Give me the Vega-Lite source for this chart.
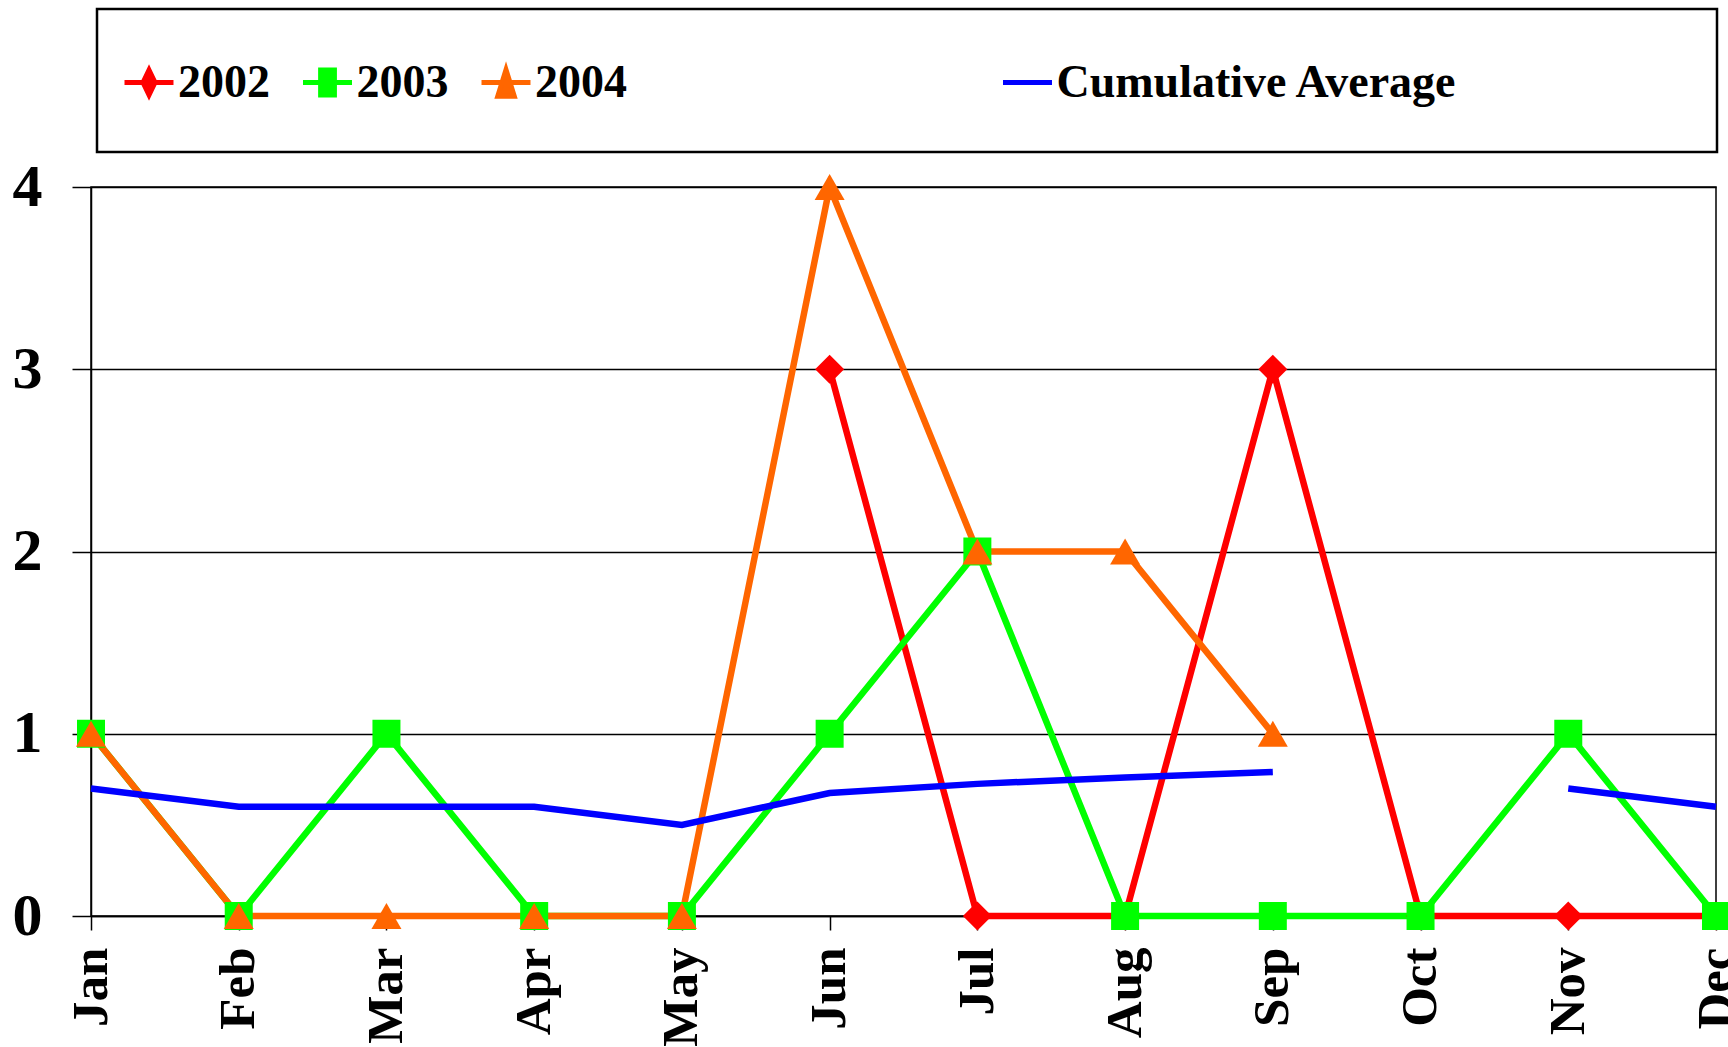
{
  "$schema": "https://vega.github.io/schema/vega-lite/v6.json",
  "width": 1625,
  "height": 729,
  "autosize": "none",
  "padding": {"left": 91, "top": 187, "right": 12, "bottom": 131},
  "background": "white",
  "config": {
    "view": {"stroke": "black", "strokeWidth": 1.5},
    "font": "Liberation Serif"
  },
  "datasets": {
    "main": [
      {"month": "Jun", "series": "2002", "value": 3},
      {"month": "Jul", "series": "2002", "value": 0},
      {"month": "Aug", "series": "2002", "value": 0},
      {"month": "Sep", "series": "2002", "value": 3},
      {"month": "Oct", "series": "2002", "value": 0},
      {"month": "Nov", "series": "2002", "value": 0},
      {"month": "Dec", "series": "2002", "value": 0},
      {"month": "Jan", "series": "2003", "value": 1},
      {"month": "Feb", "series": "2003", "value": 0},
      {"month": "Mar", "series": "2003", "value": 1},
      {"month": "Apr", "series": "2003", "value": 0},
      {"month": "May", "series": "2003", "value": 0},
      {"month": "Jun", "series": "2003", "value": 1},
      {"month": "Jul", "series": "2003", "value": 2},
      {"month": "Aug", "series": "2003", "value": 0},
      {"month": "Sep", "series": "2003", "value": 0},
      {"month": "Oct", "series": "2003", "value": 0},
      {"month": "Nov", "series": "2003", "value": 1},
      {"month": "Dec", "series": "2003", "value": 0},
      {"month": "Jan", "series": "2004", "value": 1},
      {"month": "Feb", "series": "2004", "value": 0},
      {"month": "Mar", "series": "2004", "value": 0},
      {"month": "Apr", "series": "2004", "value": 0},
      {"month": "May", "series": "2004", "value": 0},
      {"month": "Jun", "series": "2004", "value": 4},
      {"month": "Jul", "series": "2004", "value": 2},
      {"month": "Aug", "series": "2004", "value": 2},
      {"month": "Sep", "series": "2004", "value": 1},
      {"month": "Jan", "series": "Cumulative Average", "value": 0.70},
      {"month": "Feb", "series": "Cumulative Average", "value": 0.60},
      {"month": "Mar", "series": "Cumulative Average", "value": 0.60},
      {"month": "Apr", "series": "Cumulative Average", "value": 0.60},
      {"month": "May", "series": "Cumulative Average", "value": 0.50},
      {"month": "Jun", "series": "Cumulative Average", "value": 0.675},
      {"month": "Jul", "series": "Cumulative Average", "value": 0.725},
      {"month": "Aug", "series": "Cumulative Average", "value": 0.76},
      {"month": "Sep", "series": "Cumulative Average", "value": 0.79},
      {"month": "Oct", "series": "Cumulative Average", "value": null},
      {"month": "Nov", "series": "Cumulative Average", "value": 0.70},
      {"month": "Dec", "series": "Cumulative Average", "value": 0.60}
    ]
  },
  "data": {"name": "main"},
  "encoding": {
    "x": {
      "field": "month",
      "type": "ordinal",
      "sort": ["Jan", "Feb", "Mar", "Apr", "May", "Jun", "Jul", "Aug", "Sep", "Oct", "Nov", "Dec"],
      "scale": {"type": "point", "padding": 0},
      "axis": {
        "title": null,
        "labelAngle": -90,
        "labelFont": "Liberation Serif",
        "labelFontWeight": "bold",
        "labelFontSize": 51,
        "labelColor": "black",
        "labelPadding": 17,
        "tickSize": 14,
        "tickColor": "black",
        "tickWidth": 1.5,
        "domainColor": "black",
        "domainWidth": 1.5,
        "grid": false
      }
    },
    "y": {
      "field": "value",
      "type": "quantitative",
      "scale": {"domain": [0, 4], "nice": false, "zero": true},
      "axis": {
        "title": null,
        "values": [0, 1, 2, 3, 4],
        "labelFont": "Liberation Serif",
        "labelFontWeight": "bold",
        "labelFontSize": 60,
        "labelColor": "black",
        "labelPadding": 30,
        "tickSize": 19,
        "tickColor": "black",
        "tickWidth": 1.5,
        "domainColor": "black",
        "domainWidth": 1.5,
        "grid": true,
        "gridColor": "black",
        "gridWidth": 1.5
      }
    }
  },
  "layer": [
    {
      "transform": [{"filter": "datum.series != 'Cumulative Average'"}],
      "mark": {"type": "line", "strokeWidth": 6.5},
      "encoding": {
        "color": {
          "field": "series",
          "type": "nominal",
          "scale": {"domain": ["2002", "2003", "2004"], "range": ["#FF0000", "#00FF00", "#FF6600"]},
          "legend": null
        }
      }
    },
    {
      "transform": [{"filter": "datum.series == '2002'"}],
      "mark": {"type": "point", "shape": "diamond", "filled": true, "opacity": 1, "size": 841, "color": "#FF0000"}
    },
    {
      "transform": [{"filter": "datum.series == '2003'"}],
      "mark": {"type": "point", "shape": "square", "filled": true, "opacity": 1, "size": 784, "color": "#00FF00"}
    },
    {
      "transform": [{"filter": "datum.series == '2004'"}],
      "mark": {"type": "point", "shape": "triangle-up", "filled": true, "opacity": 1, "size": 900, "color": "#FF6600"}
    },
    {
      "transform": [{"filter": "datum.series == 'Cumulative Average'"}],
      "mark": {"type": "line", "strokeWidth": 6.5, "color": "#0000FF", "invalid": "break-paths-show-domains"}
    },
    {
      "mark": {"type": "point", "filled": true, "opacity": 0, "size": 10},
      "encoding": {
        "fill": {
          "field": "series",
          "type": "nominal",
          "scale": {"domain": ["2002", "2003", "2004", "Cumulative Average"], "range": ["#FF0000", "#00FF00", "#FF6600", "#0000FF"]},
          "legend": {
            "orient": "none", "legendX": 6, "legendY": -178, "direction": "horizontal", "columns": 4, "title": null,
            "symbolSize": 8464, "symbolStrokeWidth": 5, "symbolOpacity": 1,
            "labelFont": "Liberation Serif", "labelFontWeight": "bold", "labelFontSize": 46, "labelColor": "black",
            "labelOffset": -41, "labelLimit": 800, "columnPadding": 22.5, "padding": 25,
            "strokeColor": "black", "fillColor": "white",
            "encode": {"legend": {"update": {"strokeWidth": {"value": 2.5}}}}
          }
        },
        "stroke": {
          "field": "series",
          "type": "nominal",
          "scale": {"domain": ["2002", "2003", "2004", "Cumulative Average"], "range": ["#FF0000", "#00FF00", "#FF6600", "#0000FF"]},
          "legend": {
            "orient": "none", "legendX": 6, "legendY": -178, "direction": "horizontal", "columns": 4, "title": null,
            "symbolSize": 8464, "symbolStrokeWidth": 5, "symbolOpacity": 1,
            "labelFont": "Liberation Serif", "labelFontWeight": "bold", "labelFontSize": 46, "labelColor": "black",
            "labelOffset": -41, "labelLimit": 800, "columnPadding": 22.5, "padding": 25,
            "strokeColor": "black", "fillColor": "white",
            "encode": {"legend": {"update": {"strokeWidth": {"value": 2.5}}}}
          }
        },
        "shape": {
          "field": "series",
          "type": "nominal",
          "scale": {
            "domain": ["2002", "2003", "2004", "Cumulative Average"],
            "range": [
              "M-1,-1M-1,0.75M-1,0L0.065,0M-0.467,-0.27L-0.337,0L-0.467,0.27L-0.597,0Z",
              "M-1,-1M-1,0.75M-1,0L0.065,0M-0.617,-0.27L-0.317,-0.27L-0.317,0.27L-0.617,0.27Z",
              "M-1,-1M-1,0.75M-1,0L0.065,0M-0.467,-0.28L-0.287,0.3L-0.647,0.3ZM9.385,0",
              "M-1,-1M-1,0.75M-1,0L0.065,0M13.74,0"
            ]
          },
          "legend": {
            "orient": "none", "legendX": 6, "legendY": -178, "direction": "horizontal", "columns": 4, "title": null,
            "symbolSize": 8464, "symbolStrokeWidth": 5, "symbolOpacity": 1,
            "labelFont": "Liberation Serif", "labelFontWeight": "bold", "labelFontSize": 46, "labelColor": "black",
            "labelOffset": -41, "labelLimit": 800, "columnPadding": 22.5, "padding": 25,
            "strokeColor": "black", "fillColor": "white",
            "encode": {"legend": {"update": {"strokeWidth": {"value": 2.5}}}}
          }
        }
      }
    }
  ]
}
